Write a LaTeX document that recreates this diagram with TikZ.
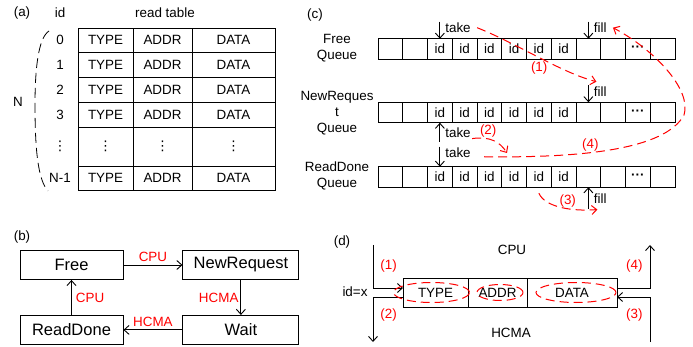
\documentclass[tikz,border=0pt]{standalone}
\usepackage{fontspec}
\setmainfont{Liberation Sans}
\newfontfamily\symfont{DejaVu Sans}
\usetikzlibrary{arrows.meta,positioning}
\newcommand\vdts{{\symfont ⋮}}
\newcommand\hdts{\textbf{\char"00B7\char"00B7\char"00B7}}

\begin{document}
\begin{tikzpicture}[
      x=1pt, y=-1pt,
      font=\fontsize{13.4}{16}\selectfont,
      cell/.style={draw, line width=0.9pt, inner sep=0pt, outer sep=0pt},
      qcell/.style={draw, line width=0.9pt, inner sep=0pt, outer sep=0pt, minimum width=24.75pt, minimum height=20.5pt},
      state/.style={draw, line width=0.9pt, minimum height=29pt, font=\fontsize{16.5}{18}\selectfont},
      dcell/.style={draw, line width=0.9pt, inner sep=0pt, outer sep=0pt, minimum height=29pt},
      arr/.style={-{Straight Barb[length=5pt,width=9pt]}, line width=0.9pt},
      redarr/.style={-{Straight Barb[length=5pt,width=9pt]}, line width=1pt, red, dash pattern=on 9pt off 5pt},
      reddash/.style={line width=1pt, red, dash pattern=on 9pt off 5pt},
      tag/.style={text=red, inner sep=1pt},
      lbl/.style={inner sep=1pt}
    ]
    \useasboundingbox (0,0) rectangle (693,347);
    \fill[white] (0,0) rectangle (693,347);

    % (a) read table
    \node (la) at (22,13) {(a)};
    \node (idhead) at (60,13) {id};
    \node (rthead) at (165,13) {read table};
    \foreach \r/\id/\yc/\h in {0/0/40/24, 1/1/64.5/25, 2/2/89.5/25, 3/3/114.5/25, 4/\vdts/146.5/39, 5/N-1/178/24} {
      \node[cell, minimum width=55pt, minimum height=\h pt] (ty-\r) at (105.5,\yc) {\ifnum\r=4 \vdts\else TYPE\fi};
      \node[cell, minimum width=59pt, minimum height=\h pt, right=0pt of ty-\r] (ad-\r) {\ifnum\r=4 \vdts\else ADDR\fi};
      \node[cell, minimum width=83pt, minimum height=\h pt, right=0pt of ad-\r] (da-\r) {\ifnum\r=4 \vdts\else DATA\fi};
      \node (id-\r) at (60,\yc) {\id};
    }
    \draw[line width=0.8pt, dash pattern=on 10pt off 5pt] (49,31) .. controls (38,38) and (35,70) .. (35,105)
      .. controls (35,150) and (38,180) .. (48,191);
    \node (nn) at (18,102) {N};

    % (b) states
    \node (lb) at (22,237) {(b)};
    \node[state, minimum width=103pt] (free) at (71.5,265) {Free};
    \node[state, minimum width=116pt, right=59pt of free] (newreq) {NewRequest};
    \node[state, minimum width=116pt, below=35pt of newreq] (wait) {Wait};
    \node[state, minimum width=103pt, below=35pt of free] (readdone) {ReadDone};
    \draw[arr] (free) -- node[tag, above=2pt] {CPU} (newreq);
    \draw[arr] (newreq) -- node[tag, left=1pt] {HCMA} (wait);
    \draw[arr] (wait) -- node[tag, above=2pt] {HCMA} (readdone);
    \draw[arr] (readdone) -- node[tag, right=3pt] {CPU} (free);

    % (c) queues
    \node (lc) at (315,15) {(c)};
    \foreach \q/\yc in {fq/49, nq/112.5, rq/177} {
      \foreach \i in {0,...,11}
        \node[qcell] (\q-\i) at (390.4+24.75*\i,\yc) {\ifnum\i>1 \ifnum\i<8 id\fi\fi\ifnum\i=10 \hdts\fi};
    }
    \node[align=center] (fqname) at (337,48) {Free\\Queue};
    \node[align=center] (nqname) at (337,113) {NewReques\\t\\Queue};
    \node[align=center] (rqname) at (337,175.5) {ReadDone\\Queue};

    \coordinate[above=17pt of fq-2.north] (fqtk);
    \draw[arr] (fqtk) -- node[lbl, right=4pt, pos=0.35] (fqtake) {take} (fq-2.north);
    \coordinate[above=17pt of fq-8.north] (fqfl);
    \draw[arr] (fqfl) -- node[lbl, right=4pt, pos=0.35] (fqfill) {fill} (fq-8.north);
    \coordinate[above=17pt of nq-8.north] (nqfl);
    \draw[arr] (nqfl) -- node[lbl, right=4pt, pos=0.4] (nqfill) {fill} (nq-8.north);
    \coordinate[below=19pt of nq-2.south] (nqtk);
    \draw[arr] (nqtk) -- node[lbl, right=4pt, pos=0.5] (nqtake) {take} (nq-2.south);
    \coordinate[above=20pt of rq-2.north] (rqtk);
    \draw[arr] (rqtk) -- node[lbl, right=4pt, pos=0.3] (rqtake) {take} (rq-2.north);
    \coordinate[below=22pt of rq-8.south] (rqfl);
    \draw[arr] (rqfl) -- node[lbl, right=4pt, pos=0.5] (rqfill) {fill} (rq-8.south);

    \draw[redarr] ([xshift=5pt]fqtake.east) .. controls (520,45) and (560,72) .. ([shift={(4pt,4pt)}]nqfill.north west)
      node[tag, pos=0.5, below=3pt] {(1)};
    \coordinate (nq2) at (507,153);
    \draw[redarr] (nqtake.south east) .. controls (490,136) and (500,142) .. (nq2)
      node[tag, pos=0.35, above] {(2)};
    \draw[redarr] ([yshift=-6pt]rq-6.south) .. controls +(6,14) and +(-25,2) .. ([shift={(5pt,-5pt)}]rqfill.south west)
      node[tag, pos=0.6, above] {(3)};
    \draw[redarr] ([shift={(12pt,-4pt)}]rqtake.east) .. controls (580,158) and (665,150) .. (684,115)
      node[tag, pos=0.4, above] {(4)}
      .. controls (692,90) and (655,50) .. ([xshift=5pt]fqfill.east);

    % (d) one entry
    \node (ld) at (342,242) {(d)};
    \node[dcell, minimum width=65pt] (dty) at (435.5,292.5) {TYPE};
    \node[dcell, minimum width=59pt, right=0pt of dty] (dad) {ADDR};
    \node[dcell, minimum width=90pt, right=0pt of dad] (dda) {DATA};
    \node (cpu) at (512,250) {CPU};
    \node (hcma) at (511,333) {HCMA};
    \node[anchor=east] (idx) at (371,292) {id=x};
    \coordinate (d1) at (373,245);
    \coordinate (d2) at (373,342);
    \coordinate (d3) at (650,342);
    \coordinate (d4) at (650,245);
    \draw[arr] (d1) |- ([yshift=4.5pt]dty.west) node[tag, right=6pt, pos=0.25] {(1)};
    \draw[arr] ([yshift=-4.5pt]dty.west) -| (d2) node[tag, right=6pt, pos=0.7] {(2)};
    \draw[arr] ([yshift=4.5pt]dda.east) -| (d4) node[tag, left=6pt, pos=0.75] {(4)};
    \draw[arr] (d3) |- ([yshift=-4.5pt]dda.east) node[tag, left=6pt, pos=0.3] {(3)};
    \draw[reddash] ([xshift=-4pt]dty.center) ellipse [x radius=38pt, y radius=10pt];
    \draw[reddash] ([xshift=2.5pt]dad.center) ellipse [x radius=23pt, y radius=8pt];
    \draw[reddash] ([xshift=4pt]dda.center) ellipse [x radius=40pt, y radius=10pt];
  \end{tikzpicture}
\end{document}
